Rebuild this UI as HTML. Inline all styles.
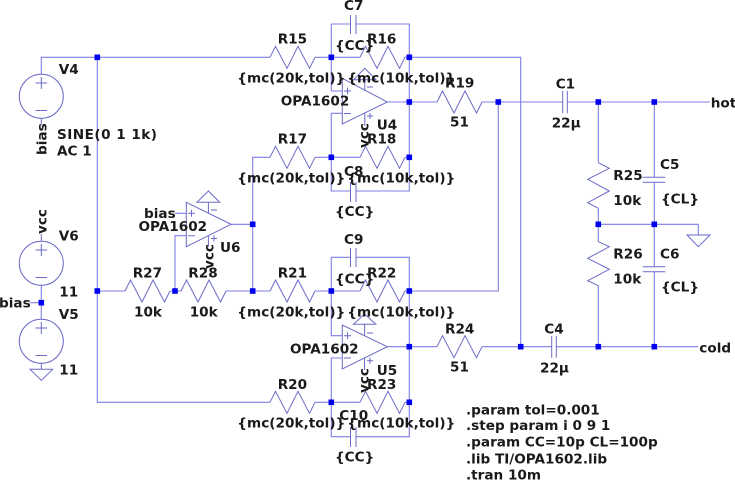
<!DOCTYPE html>
<html><head><meta charset="utf-8">
<style>
html,body{margin:0;padding:0;background:#fff;width:735px;height:481px;overflow:hidden}
svg{display:block}
.w{fill:none;stroke:#7f7fe8;stroke-width:1.1}
.s{fill:none;stroke:#6a6ac8;stroke-width:1}
.n{fill:#0000f0;stroke:none}
text{font-family:"DejaVu Sans","Liberation Sans",sans-serif;font-weight:bold;font-size:13.6px;fill:#1a1a1a}
</style></head><body>
<svg width="735" height="481" viewBox="0 0 735 481" xmlns="http://www.w3.org/2000/svg">
<!-- wires -->
<path class="w" d="M41.3 74.3V57.3H270M315 57.3H360M405 57.3H520.7V346.7M97.3 57.3V402.3H270M315 402.3H360M405 402.3H409.3M97.3 291H125M170 291H181M226 291H270M315 291H360M405 291H498.3V102M331.3 24H350.5M356 24H409.3V102M331.3 24V91H342.3M331.3 113.3H342.3M331.3 113.3V191H350.5M356 191H409.3V102M387.3 102H437M482 102H562.7M567.3 102H710M315 157.3H360M405 157.3H409.3M270 157.3H252.7V291M231 224.3H252.7M175 213.3H186.3M186.3 235.7H175V291"/>
<path class="w" d="M331.3 257.3H350.5M356 257.3H409.3V436.7H356M350.5 436.7H331.3V358H342.3M331.3 257.3V335.7H342.3M387.3 346.7H437M482 346.7H551.7M556.3 346.7H698M598.3 102V162.7M598.3 208.3V241.7M598.3 285.7V346.7M654.3 102V177.3M654.3 182.3V266.7M654.3 271.7V346.7M598.3 224.3H698.3V235M41.3 285.3V319.3M30 302.7H41.3"/>
<!-- resistors -->
<path class="s" d="M270 57.3L275.5 46.3L287 68.3L298 46.3L309.5 68.3L315 57.3M360 57.3L365.5 46.3L377 68.3L388 46.3L399.5 68.3L405 57.3M270 157.3L275.5 146.3L287 168.3L298 146.3L309.5 168.3L315 157.3M360 157.3L365.5 146.3L377 168.3L388 146.3L399.5 168.3L405 157.3M270 291L275.5 280L287 302L298 280L309.5 302L315 291M360 291L365.5 280L377 302L388 280L399.5 302L405 291M270 402.3L275.5 391.3L287 413.3L298 391.3L309.5 413.3L315 402.3M360 402.3L365.5 391.3L377 413.3L388 391.3L399.5 413.3L405 402.3M437 102L442.5 91L454 113L465 91L476.5 113L482 102M437 346.7L442.5 335.7L454 357.7L465 335.7L476.5 357.7L482 346.7M125 291L130.5 280L142 302L153 280L164.5 302L170 291M181 291L186.5 280L198 302L209 280L220.5 302L226 291M598.3 162.7L609.3 168.3L587.7 179.3L609.3 191L587.7 202.7L598.3 208.3M598.3 241.7L609.3 246.7L587.7 258.3L609.3 269.3L587.7 280.7L598.3 285.7"/>
<!-- caps -->
<path class="s" d="M350.5 15V34M356 15V34M350.5 182V202M356 182V202M350.5 248V267M356 248V267M350.5 427V447M356 427V447M562.7 90.7V113.3M567.3 90.7V113.3M551.7 336V357.7M556.3 336V357.7M642.7 177.3H665.3M642.7 182.3H665.3M642.7 266.7H665.3M642.7 271.7H665.3"/>
<!-- sources -->
<circle class="s" cx="41.3" cy="96.3" r="22"/><circle class="s" cx="41.3" cy="263.3" r="22"/><circle class="s" cx="41.3" cy="341.3" r="22"/>
<path class="s" d="M41.3 118.3V125M41.3 234V241.3M41.3 363.3V369.3M35.5 83H47M41.3 77V89M35.5 110.5H47M35.5 250H47M41.3 244V256M35.5 277.5H47M35.5 328H47M41.3 322V334M35.5 355.5H47"/>
<!-- grounds -->
<path class="s" d="M30 369.3H52.7L41.3 380.3ZM687 235H710L698.3 246.7Z"/>
<!-- opamps -->
<path class="s" d="M342.3 78.3V124L387.3 102ZM353.6 79.8H376L364.8 68.3ZM364.8 79.8V91M364.8 113V126M344 91H351M347.5 87.5V94.5M344 113.5H351M367 87H373M367 116H373M370 113V119"/>
<path class="s" d="M342.3 325V369L387.3 346.7ZM353.4 324.3H375.8L364.6 314ZM364.6 324.3V336M364.6 358V370M344 335.7H351M347.5 332.2V339.2M344 358H351M367 333H373M367 360.7H373M370 357.7V363.7"/>
<path class="s" d="M186.3 202.3V246.7L231 224.3ZM197 202.3H219.7L208.4 191ZM208.4 202.3V213M208.4 236V246.7M188 213.3H195M191.5 209.8V216.8M188 235.7H195M211 210H217M211 238.5H217M214 235.5V241.5"/>
<!-- nodes -->
<g class="n">
<rect x="94.5" y="54.5" width="5.6" height="5.6"/><rect x="328.5" y="54.5" width="5.6" height="5.6"/><rect x="406.5" y="54.5" width="5.6" height="5.6"/>
<rect x="406.5" y="99.2" width="5.6" height="5.6"/><rect x="495.5" y="99.2" width="5.6" height="5.6"/><rect x="595.5" y="99.2" width="5.6" height="5.6"/><rect x="651.5" y="99.2" width="5.6" height="5.6"/>
<rect x="328.5" y="154.5" width="5.6" height="5.6"/><rect x="406.5" y="154.5" width="5.6" height="5.6"/><rect x="249.9" y="221.5" width="5.6" height="5.6"/>
<rect x="595.5" y="221.5" width="5.6" height="5.6"/><rect x="651.5" y="221.5" width="5.6" height="5.6"/>
<rect x="94.5" y="288.2" width="5.6" height="5.6"/><rect x="172.2" y="288.2" width="5.6" height="5.6"/><rect x="249.9" y="288.2" width="5.6" height="5.6"/><rect x="328.5" y="288.2" width="5.6" height="5.6"/><rect x="406.5" y="288.2" width="5.6" height="5.6"/>
<rect x="38.5" y="299.9" width="5.6" height="5.6"/>
<rect x="406.5" y="343.9" width="5.6" height="5.6"/><rect x="517.9" y="343.9" width="5.6" height="5.6"/><rect x="595.5" y="343.9" width="5.6" height="5.6"/><rect x="651.5" y="343.9" width="5.6" height="5.6"/>
<rect x="328.5" y="399.5" width="5.6" height="5.6"/><rect x="406.5" y="399.5" width="5.6" height="5.6"/>
</g>
<!-- labels -->
<text x="58.7" y="74">V4</text>
<text x="57" y="139" textLength="100">SINE(0 1 1k)</text>
<text x="57" y="155.7">AC 1</text>
<text transform="rotate(-90 46.5 155)" x="46.5" y="155">bias</text>
<text transform="rotate(-90 46.5 234)" x="46.5" y="234">vcc</text>
<text x="58.7" y="240.7">V6</text>
<text x="59.3" y="296.7">11</text>
<text x="-1" y="307.7">bias</text>
<text x="58.7" y="319">V5</text>
<text x="59.3" y="374.7">11</text>
<text x="144" y="218">bias</text>
<text x="138.5" y="231">OPA1602</text>
<text x="220" y="252">U6</text>
<text transform="rotate(-90 213.5 269)" x="213.5" y="269">vcc</text>
<text x="132.7" y="277.3">R27</text><text x="188.3" y="277.3">R28</text>
<text x="134" y="316.7">10k</text><text x="189.7" y="316.7">10k</text>
<text x="344" y="10">C7</text><text x="335" y="50">{CC}</text>
<text x="277.7" y="43.3">R15</text><text x="367" y="43.3">R16</text>
<text x="237.3" y="82.7" textLength="108">{mc(20k,tol)}</text><text x="347.3" y="82.7" textLength="108">{mc(10k,tol)}</text>
<text x="280.7" y="105.7">OPA1602</text><text x="376.7" y="129.3">U4</text>
<text x="445" y="87.3">R19</text><text x="450" y="126.7">51</text>
<text transform="rotate(-90 368.5 148)" x="368.5" y="148">vcc</text>
<text x="277.7" y="143.3">R17</text><text x="367" y="143.3">R18</text>
<text x="237.3" y="182.7" textLength="108">{mc(20k,tol)}</text><text x="347.3" y="182.7" textLength="108">{mc(10k,tol)}</text>
<text x="344" y="176">C8</text><text x="335" y="216">{CC}</text>
<text x="344" y="244">C9</text><text x="335" y="283.3">{CC}</text>
<text x="277.7" y="277.3">R21</text><text x="367" y="277.3">R22</text>
<text x="237.3" y="316.7" textLength="108">{mc(20k,tol)}</text><text x="347.3" y="316.7" textLength="108">{mc(10k,tol)}</text>
<text x="290" y="353.3">OPA1602</text><text x="376.7" y="375">U5</text>
<text x="445" y="333.3">R24</text><text x="450" y="371.7">51</text>
<text transform="rotate(-90 368.5 393)" x="368.5" y="393">vcc</text>
<text x="277.7" y="389">R20</text><text x="367" y="389">R23</text>
<text x="237.3" y="427.7" textLength="108">{mc(20k,tol)}</text><text x="347.3" y="427.7" textLength="108">{mc(10k,tol)}</text>
<text x="339.3" y="420">C10</text><text x="335" y="461.7">{CC}</text>
<text x="555.7" y="88.3">C1</text><text x="551.7" y="127.7">22µ</text><text x="710.7" y="107.7">hot</text>
<text x="613.3" y="180">R25</text><text x="613.3" y="205">10k</text>
<text x="660" y="169">C5</text><text x="661" y="203.3">{CL}</text>
<text x="613.3" y="258.3">R26</text><text x="613.3" y="283.3">10k</text>
<text x="660" y="258.3">C6</text><text x="661" y="291.7">{CL}</text>
<text x="544.3" y="333.3">C4</text><text x="540" y="372.3">22µ</text><text x="699.3" y="352.7">cold</text>
<text x="466" y="414.3">.param tol=0.001</text>
<text x="466" y="430">.step param i 0 9 1</text>
<text x="466" y="446.7">.param CC=10p CL=100p</text>
<text x="466" y="463.3">.lib TI/OPA1602.lib</text>
<text x="466" y="479.3">.tran 10m</text>
</svg>
</body></html>
